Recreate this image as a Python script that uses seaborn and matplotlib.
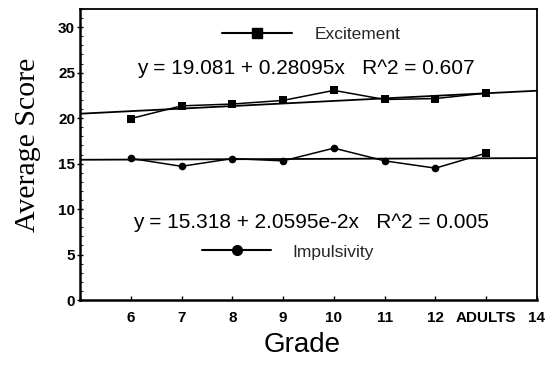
import matplotlib
matplotlib.use("Agg")
import matplotlib.pyplot as plt
from matplotlib.lines import Line2D
from matplotlib.ticker import MultipleLocator
import numpy as np
import seaborn as sns

# ---- data ----
grades = [6, 7, 8, 9, 10, 11, 12, 13]
excitement = [19.95, 21.35, 21.55, 21.95, 23.05, 22.05, 22.15, 22.75]
impulsivity = [15.57, 14.70, 15.55, 15.30, 16.70, 15.30, 14.50, 16.15]
exc_fit = [19.081, 0.28095]      # intercept, slope
imp_fit = [15.318, 2.0595e-2]
tick_positions = [6, 7, 8, 9, 10, 11, 12, 13, 14]
tick_labels = ["6", "7", "8", "9", "10", "11", "12", "ADULTS", "14"]
exc_eq = "y = 19.081 + 0.28095x   R^2 = 0.607"
imp_eq = "y = 15.318 + 2.0595e-2x   R^2 = 0.005"

sns.set_theme(style="white")
plt.rcParams["font.family"] = ["Liberation Sans", "DejaVu Sans"]

fig = plt.figure(figsize=(5.6, 3.66), dpi=100)
ax = fig.add_axes([80 / 560, 66 / 366, 457 / 560, 291 / 366])

xlim = (5, 14)
fit_x = np.array(xlim, dtype=float)

# regression lines
sns.lineplot(x=fit_x, y=exc_fit[0] + exc_fit[1] * fit_x, ax=ax, color="black", lw=1.3)
sns.lineplot(x=fit_x, y=imp_fit[0] + imp_fit[1] * fit_x, ax=ax, color="black", lw=1.3)

# data series
sns.lineplot(x=grades, y=excitement, ax=ax, color="black", lw=1.1,
             marker="s", markersize=5.5, markeredgewidth=0, legend=False)
sns.lineplot(x=grades, y=impulsivity, ax=ax, color="black", lw=1.1,
             marker="o", markersize=5.5, markeredgewidth=0,
             markevery=list(range(len(grades) - 1)), legend=False)
sns.scatterplot(x=grades[-1:], y=impulsivity[-1:], ax=ax, color="black",
                marker="s", s=30, linewidth=0, legend=False)

ax.set_xlim(*xlim)
ax.set_ylim(0, 32)
ax.set_xticks(tick_positions)
ax.set_xticklabels(tick_labels)
ax.set_yticks([0, 5, 10, 15, 20, 25, 30])
ax.yaxis.set_minor_locator(MultipleLocator(1))
for lbl in ax.get_xticklabels() + ax.get_yticklabels():
    lbl.set_fontweight("bold")
    lbl.set_fontsize(11)
ax.tick_params(axis="x", which="major", direction="in", length=3, width=1, pad=8,
               colors="black", bottom=True)
ax.tick_params(axis="y", which="major", direction="inout", length=5, width=1, pad=1,
               colors="black", left=True)
ax.tick_params(axis="y", which="minor", direction="in", length=2, width=0.8, left=True)

for side, sp in ax.spines.items():
    sp.set_color("black")
    sp.set_linewidth(1.8 if side in ("left", "bottom") else 1.3)
    sp.set_visible(True)

ax.set_xlabel("Grade", fontsize=20, color="black")
ax.xaxis.set_label_coords(0.486, -0.11)
ax.set_ylabel("Average Score", fontsize=21.5, color="black",
              family=["Liberation Serif", "DejaVu Serif"])
ax.yaxis.set_label_coords(-0.085, 0.533)

# equations
ax.text(0.125, 0.797, exc_eq, transform=ax.transAxes, fontsize=15,
        va="center", ha="left", color="black")
ax.text(0.116, 0.268, imp_eq, transform=ax.transAxes, fontsize=15,
        va="center", ha="left", color="black")

# legends
h_exc = Line2D([], [], color="black", lw=1.5, marker="s", markersize=7.5)
h_imp = Line2D([], [], color="black", lw=1.5, marker="o", markersize=7)
leg1 = ax.legend(handles=[h_exc], labels=["Excitement"], loc="center left",
                 bbox_to_anchor=(0.311, 0.911), frameon=False, fontsize=12.5,
                 handlelength=4.0, handletextpad=1.3, borderpad=0, borderaxespad=0)
ax.add_artist(leg1)
ax.legend(handles=[h_imp], labels=["Impulsivity"], loc="center left",
          bbox_to_anchor=(0.267, 0.165), frameon=False, fontsize=12.5,
          handlelength=4.0, handletextpad=1.2, borderpad=0, borderaxespad=0)

fig.savefig("out.png", dpi=100)
